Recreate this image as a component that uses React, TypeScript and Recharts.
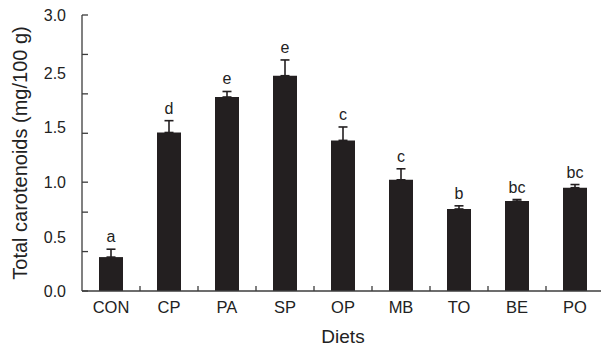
import { BarChart, Bar, XAxis, YAxis, ErrorBar, LabelList } from "recharts"

// categories and values (y scale runs 0 - 3.5 internally)
const DIETS = ["CON", "CP", "PA", "SP", "OP", "MB", "TO", "BE", "PO"]
const MEANS = [0.43, 2.01, 2.46, 2.73, 1.91, 1.41, 1.04, 1.14, 1.31]
const ERRORS = [0.1, 0.15, 0.07, 0.2, 0.17, 0.14, 0.04, 0.02, 0.04]
const LETTERS = ["a", "d", "e", "e", "c", "c", "b", "bc", "bc"]

// the printed axis is uneven: tick marks and labels sit at different heights
const Y_MARKS = [0, 0.5, 1.0, 1.38, 2.0, 2.5, 3.0, 3.5]
const Y_LABEL_POS = [0, 0.68, 1.38, 2.07, 2.76, 3.5]
const Y_LABELS = ["0.0", "0.5", "1.0", "1.5", "2.5", "3.0"]

const FONT = "'Liberation Sans', Arial, sans-serif"
const INK = "#231f20"
const AXIS = "#3c3c3c"

const data = DIETS.map((diet, i) => ({
  diet,
  mean: MEANS[i],
  err: [0, ERRORS[i]],
  letter: LETTERS[i],
}))

const yTicks = Array.from(new Set([...Y_MARKS, ...Y_LABEL_POS])).sort((a, b) => a - b)

function YTick(props: any) {
  const { x, y, payload } = props
  const v = payload.value
  const li = Y_LABEL_POS.indexOf(v)
  return (
    <g>
      {Y_MARKS.includes(v) && <line x1={x} x2={x + 6} y1={y} y2={y} stroke={AXIS} strokeWidth={1.3} />}
      {li >= 0 && (
        <text x={x - 16} y={y + 5.5} textAnchor="end" fontSize={16} fontFamily={FONT} fill="#222">
          {Y_LABELS[li]}
        </text>
      )}
    </g>
  )
}

function XTick(props: any) {
  const { x, y, payload } = props
  const half = payload.offset ?? 29
  return (
    <g>
      {payload.index > 0 && (
        <line x1={x - half} x2={x - half} y1={y} y2={y - 5} stroke={AXIS} strokeWidth={1.3} />
      )}
      <text x={x} y={y + 22} textAnchor="middle" fontSize={16.5} fontFamily={FONT} fill="#222">
        {payload.value}
      </text>
    </g>
  )
}

function LetterLabel(props: any) {
  const { x, y, width, height, index } = props
  const errPx = (height / MEANS[index]) * ERRORS[index]
  return (
    <text x={x + width / 2} y={y - errPx - 7} textAnchor="middle" fontSize={16} fontFamily={FONT} fill="#222">
      {LETTERS[index]}
    </text>
  )
}

export default function App() {
  return (
    <div style={{ position: "absolute", left: 0, top: 0, width: 601, height: 346, overflow: "hidden", background: "#fff" }}>
      <BarChart width={610} height={346} data={data} margin={{ top: 15, right: 6, bottom: 0, left: 0 }} barSize={24}>
        <XAxis
          dataKey="diet"
          height={55}
          tickLine={false}
          tickSize={0}
          tickMargin={0}
          axisLine={{ stroke: AXIS, strokeWidth: 1.3 }}
          tick={<XTick />}
          interval={0}
          label={{ value: "Diets", position: "insideBottom", offset: 3, style: { fontSize: 19, fontFamily: FONT, fill: "#222" } }}
        />
        <YAxis
          type="number"
          domain={[0, 3.5]}
          ticks={yTicks}
          width={82}
          tickLine={false}
          tickSize={0}
          tickMargin={0}
          interval={0}
          axisLine={{ stroke: AXIS, strokeWidth: 1.3 }}
          tick={<YTick />}
          label={{
            value: "Total carotenoids (mg/100 g)",
            angle: -90,
            position: "insideLeft",
            offset: 20,
            style: { textAnchor: "middle", fontSize: 20, fontFamily: FONT, fill: "#222" },
          }}
        />
        <Bar dataKey="mean" fill={INK} isAnimationActive={false}>
          <ErrorBar dataKey="err" width={4.5} stroke={INK} strokeWidth={1.6} direction="y" />
          <LabelList dataKey="letter" content={<LetterLabel />} />
        </Bar>
      </BarChart>
    </div>
  )
}
